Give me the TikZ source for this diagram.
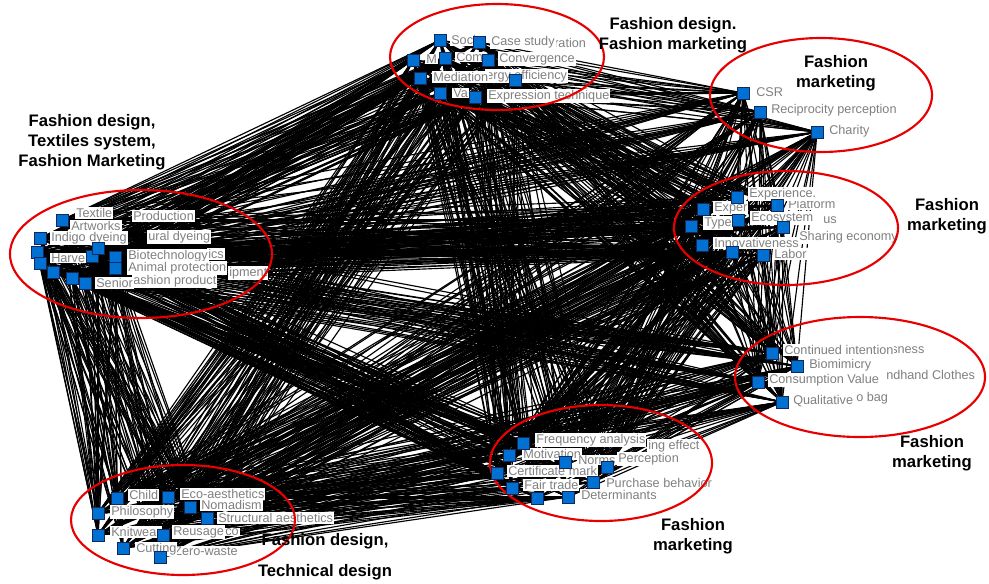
\documentclass[tikz,border=0pt]{standalone}
\usepackage{fontspec}
\setmainfont{Liberation Sans}
\pgfdeclarelayer{background}
\pgfdeclarelayer{front}
\pgfsetlayers{background,main,front}
\definecolor{kwblue}{RGB}{0,112,210}
\definecolor{kwedge}{RGB}{20,40,90}
\definecolor{kwgrey}{RGB}{128,128,128}
\definecolor{kwred}{RGB}{232,0,0}
\tikzset{every picture/.style={line width=0.75pt}}
\tikzset{
  sq/.style={draw=kwedge, fill=kwblue, line width=0.6pt, minimum size=9pt, inner sep=0pt},
  term/.style={anchor=west, fill=white, text=kwgrey, inner sep=0.75pt, font=\fontsize{9.5}{10}\selectfont},
  link/.style={line width=0.85pt, black},
  ring/.style={draw=kwred, line width=1.6pt},
  head/.style={align=center, font=\fontsize{12.5}{15}\selectfont\bfseries}
}

\begin{document}
\begin{tikzpicture}[x=0.75pt,y=0.75pt,yscale=-1,xscale=1]
\useasboundingbox (0,0) rectangle (989,583);

%Keyword squares
\begin{pgfonlayer}{front}
\foreach \n/\x/\y in {A1/62/220, A2/40/238, A3/37/252, A4/40/263, A5/53/272, A6/72/278, A7/85/283, A8/92/256, A9/98/248, A10/115/257, A11/115/268}
  \node[sq] (\n) at (\x,\y) {};
\foreach \n/\x/\y in {T1/440/40, T2/479/42, T3/413/60, T4/445/58, T5/488/60, T6/420/78, T7/515/80, T8/440/93, T9/475/97}
  \node[sq] (\n) at (\x,\y) {};
\foreach \n/\x/\y in {U1/743/93, U2/760/112, U3/817/132}
  \node[sq] (\n) at (\x,\y) {};
\foreach \n/\x/\y in {V1/737/197, V2/703/209, V3/691/226, V4/738/220, V5/702/245, V6/763/255, V7/732/252, V8/777/205, V9/783/227}
  \node[sq] (\n) at (\x,\y) {};
\foreach \n/\x/\y in {W1/772/353, W2/797/366, W3/758/382, W4/782/402}
  \node[sq] (\n) at (\x,\y) {};
\foreach \n/\x/\y in {M1/523/443, M2/509/455, M3/565/462, M4/497/473, M5/607/467, M6/512/488, M7/593/482, M8/537/498, M9/568/497}
  \node[sq] (\n) at (\x,\y) {};
\foreach \n/\x/\y in {L1/117/498, L2/168/497, L3/190/507, L4/98/513, L5/207/518, L6/98/535, L7/163/535, L8/123/548, L9/160/557}
  \node[sq] (\n) at (\x,\y) {};
\end{pgfonlayer}

%Co-occurrence links
\begin{pgfonlayer}{background}
\foreach \u/\nu/\v/\nv in {A/11/T/9, A/11/U/3, A/11/V/9, A/11/W/4, A/11/M/9, A/11/L/9, T/9/U/3, T/9/V/9, T/9/W/4, T/9/M/9, T/9/L/9, U/3/V/9, U/3/W/4, U/3/M/9, U/3/L/9, V/9/W/4, V/9/M/9, V/9/L/9, W/4/M/9, W/4/L/9, M/9/L/9}
  \foreach \i in {1,...,\nu}
    \foreach \j in {1,...,\nv}
      \draw[link] (\u\i.center) -- (\v\j.center);
\end{pgfonlayer}

% Text Node
\node[term] (tA1) at (75,213) {Textile};
\node[term] (tA2) at (132,216) {Production};
\node[term] (tA3) at (70,226) {Artworks};
\node[term] (tA4) at (147,237) {ural dyeing};
\node[term] (tA5) at (50,238) {Indigo dyeing};
\node[term] (tA6) at (207,254) {ics};
\node[term] (tA7) at (127,256) {Biotechnology};
\node[term] (tA8) at (50,258) {Harve};
\node[term] (tA9) at (228,273) {ipment};
\node[term] (tA10) at (127,268) {Animal protection};
\node[term] (tA11) at (132,281) {ashion product};
\node[term] (tA12) at (95,283) {Senior};
% Text Node
\node[term] (tT1) at (450,40) {Soci};
\node[term] (tT2) at (553,43) {ration};
\node[term] (tT3) at (490,42) {Case study};
\node[term] (tT4) at (425,59) {M};
\node[term] (tT5) at (455,57) {Com};
\node[term] (tT6) at (498,59) {Convergence};
\node[term] (tT7) at (485,76) {ergy efficiency};
\node[term] (tT8) at (432,77) {Mediation};
\node[term] (tT9) at (452,93) {Va};
\node[term] (tT10) at (487,96) {Expression technique};
% Text Node
\node[term] (tU1) at (755,92) {CSR};
\node[term] (tU2) at (770,110) {Reciprocity perception};
\node[term] (tU3) at (828,131) {Charity};
% Text Node
\node[term] (tV1) at (787,204) {Platform};
\node[term] (tV2) at (748,194) {Experience.};
\node[term] (tV3) at (713,208) {Exper};
\node[term] (tV4) at (822,220) {us};
\node[term] (tV5) at (703,223) {Type};
\node[term] (tV6) at (750,218) {Ecosystem};
\node[term] (tV7) at (798,237) {Sharing economy};
\node[term] (tV8) at (713,243) {Innovativeness};
\node[term] (tV9) at (773,254) {Labor};
% Text Node
\node[term] (tW1) at (890,350) {sness};
\node[term] (tW2) at (783,350) {Continued intention};
\node[term] (tW3) at (885,375) {ndhand Clothes};
\node[term] (tW4) at (808,365) {Biomimicry};
\node[term] (tW5) at (768,380) {Consumption Value};
\node[term] (tW6) at (855,398) {o bag};
\node[term] (tW7) at (792,401) {Qualitative};
% Text Node
\node[term] (tM1) at (647,446) {ing effect};
\node[term] (tM2) at (535,440) {Frequency analysis};
\node[term] (tM3) at (522,454) {Motivation};
\node[term] (tM4) at (617,459) {Perception};
\node[term] (tM5) at (577,460) {Norms};
\node[term] (tM6) at (507,471) {Certificate mark};
\node[term] (tM7) at (605,483) {Purchase behavior};
\node[term] (tM8) at (523,485) {Fair trade};
\node[term] (tM9) at (580,495) {Determinants};
% Text Node
\node[term] (tL1) at (128,495) {Child};
\node[term] (tL2) at (180,494) {Eco-aesthetics};
\node[term] (tL3) at (200,505) {Nomadism};
\node[term] (tL4) at (217,518) {Structural aesthetics};
\node[term] (tL5) at (110,512) {Philosophy};
\node[term] (tL6) at (224,532) {co};
\node[term] (tL7) at (110,532) {Knitwear};
\node[term] (tL8) at (172,532) {Reusage};
\node[term] (tL9) at (173,551) {Zero-waste};
\node[term] (tL10) at (135,549) {Cutting};

%Shape: Ellipse
\draw[ring] (141,254) ellipse [x radius=131, y radius=64];
\draw[ring] (497,57) ellipse [x radius=107, y radius=53];
\draw[ring] (821,95) ellipse [x radius=111, y radius=57];
\draw[ring] (786,228) ellipse [x radius=112, y radius=57];
\draw[ring] (860,377) ellipse [x radius=125, y radius=60];
\draw[ring] (601,463) ellipse [x radius=111, y radius=58];
\draw[ring] (183,520) ellipse [x radius=112, y radius=55];

% Cluster titles
\node[head] (hA) at (92,142) {Fashion design,\\Textiles system,\\Fashion Marketing};
\node[head] (hT) at (673,35) {Fashion design.\\Fashion marketing};
\node[head] (hU) at (836,73) {Fashion\\marketing};
\node[head] (hV) at (947,216) {Fashion\\marketing};
\node[head] (hW) at (932,453) {Fashion\\marketing};
\node[head] (hM) at (693,536) {Fashion\\marketing};
\node[head] (hL) at (325,557) {Fashion design,\\[8pt]Technical design};

\end{tikzpicture}
\end{document}
